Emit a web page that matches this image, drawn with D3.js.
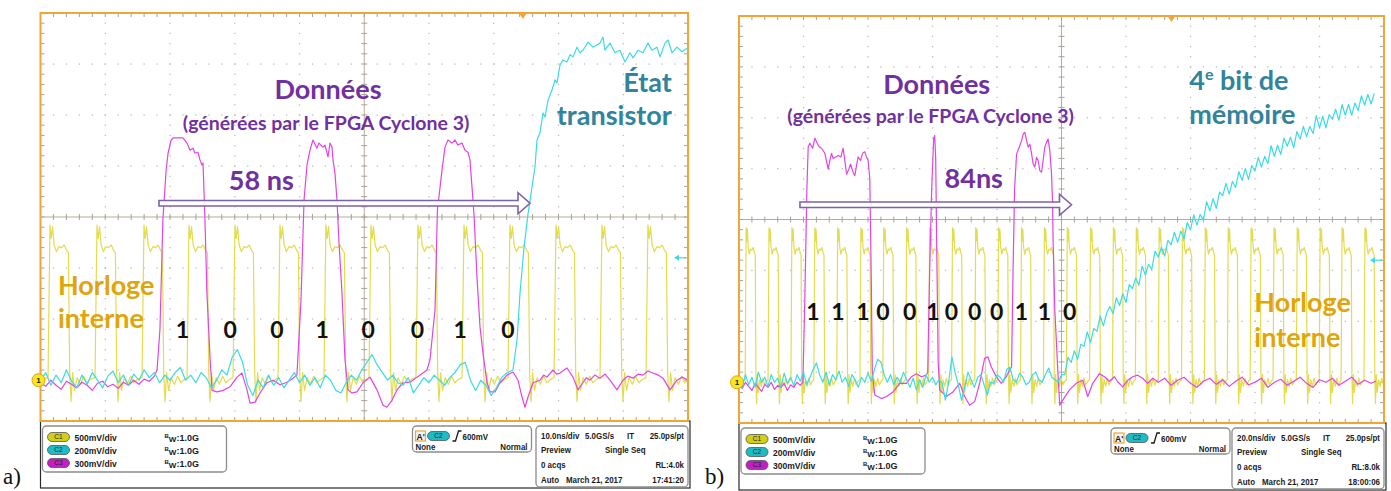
<!DOCTYPE html>
<html>
<head>
<meta charset="utf-8">
<script src="https://cdn.jsdelivr.net/npm/d3@7"></script>
<style>
  body { margin: 0; background: #fff; }
  svg { display: block; }
</style>
</head>
<body>
<svg id="chart" width="1391" height="491"></svg>
<script>
// time in ns, amplitude in screen divisions (0 = centre line)

const clockShapeT = [0, 0.3, 0.5, 0.7, 0.95, 1.3, 1.7, 2.1, 2.5, 2.9, 3.15, 3.35, 3.55, 3.8, 4.1, 4.5, 5.0, 5.5, 6.0, 6.6];
const clockShapeV = [-3.15, -0.16, -0.42, -0.19, -0.55, -0.68, -0.58, -0.6, -0.55, -0.66, -0.7, -3.06, -3.62, -3.05, -3.4, -3.15, -3.28, -3.12, -3.25, -3.18];

// clock rising edges
const clockEdgesA = [1.16, 8.42, 15.68, 22.63, 29.73, 36.68, 43.78, 50.73, 57.99, 65.1, 72.2, 79.31, 86.41, 93.51];
const clockEdgesB = [1.9, 9.0, 16.1, 23.2, 30.3, 37.5, 44.6, 51.7, 58.8, 65.9, 73.1, 80.2, 87.3, 94.4, 101.5, 108.7,
  115.8, 122.9, 130.0, 137.2, 144.3, 151.4, 158.5, 165.6, 172.8, 179.9, 186.7, 193.8];

// data line (C3, magenta), screen a
const magentaA = [
  [0,-3.25],[0.8,-3.32],[1.6,-3.2],[2.4,-3.3],[3.2,-3.38],[4,-3.22],[4.8,-3.28],[5.6,-3.35],[6.4,-3.24],[7.2,-3.3],
  [8,-3.4],[8.8,-3.26],[9.6,-3.22],[10.4,-3.33],[11.2,-3.28],[12,-3.36],[12.8,-3.24],[13.6,-3.3],[14.4,-3.2],[15.2,-3.28],
  [16,-3.18],[16.8,-3.22],[17.6,-3.12],[18.0,-3.0],[18.45,-2.2],[18.9,-0.06],[19.4,0.92],[19.7,1.25],[20.15,1.5],[20.5,1.55],
  [21.24,1.55],[22.0,1.55],[22.63,1.45],[23.09,1.31],[23.55,1.35],[23.86,1.25],[24.32,1.27],[24.63,1.12],[24.94,1.02],[25.1,1.06],
  [25.4,-0.06],[25.7,-1.49],[26.2,-2.8],[26.5,-3.4],[27.26,-3.43],[28.19,-3.4],[29.27,-3.33],[30.35,-3.14],[31.12,-3.06],[31.89,-3.39],
  [32.36,-3.65],[33.13,-3.63],[33.9,-3.45],[34.98,-3.25],[35.91,-3.2],[37.0,-3.29],[38.07,-3.24],[39.0,-3.16],[39.6,-3.1],[40.23,-1.63],
  [40.7,0.33],[41.16,1.02],[41.62,1.31],[42.08,1.51],[42.7,1.35],[43.0,1.45],[43.63,1.37],[43.94,1.41],[44.4,1.18],[44.71,1.45],
  [45.02,1.37],[45.17,1.12],[45.48,0.86],[45.79,0.33],[46.1,-0.5],[46.56,-1.49],[47.03,-2.8],[47.5,-3.39],[48.1,-3.45],[48.88,-3.43],
  [49.81,-3.25],[50.89,-3.14],[51.97,-3.39],[52.9,-3.69],[53.51,-3.73],[54.29,-3.59],[55.06,-3.39],[55.98,-3.25],[57.07,-3.24],[58.15,-3.14],
  [59.07,-3.06],[59.69,-3.0],[60.15,-2.8],[60.93,-1.82],[61.3,0.14],[62.01,0.92],[62.47,1.37],[62.94,1.51],[63.55,1.45],[64.02,1.51],
  [64.48,1.41],[65.1,1.45],[65.56,1.31],[66.02,1.27],[66.33,1.12],[66.64,0.59],[66.95,0.05],[67.41,-1.18],[67.88,-2.16],[68.34,-2.67],
  [68.96,-3.25],[69.42,-3.43],[70.19,-3.43],[70.97,-3.25],[72.05,-3.1],[72.97,-3.04],[73.75,-3.2],[74.36,-3.53],[74.83,-3.73],[75.29,-3.53],
  [76.06,-3.25],[77.14,-3.2],[77.7,-3.1],[78.22,-3.14],[79.15,-3.0],[79.7,-3.08],[80.23,-3.06],[81.31,-2.96],[82.24,-3.14],[83.01,-3.39],
  [83.78,-3.25],[84.3,-3.15],[84.86,-3.2],[85.6,-3.1],[86.41,-3.16],[87.2,-3.08],[87.95,-3.2],[89.03,-3.39],[89.96,-3.2],[90.7,-3.12],
  [91.51,-3.16],[92.3,-3.08],[93.05,-3.1],[93.8,-3.02],[94.59,-3.06],[95.4,-3.1],[96.14,-3.16],[97.22,-3.39],[98.3,-3.2],[99.1,-3.14],[100,-3.2]
];

// transistor state (C2, cyan), screen a
const cyanA = [
  [0,-3.2],[0.8,-3.05],[1.6,-3.3],[2.4,-3.1],[3.2,-3.25],[4,-3.0],[4.8,-3.22],[5.6,-3.35],[6.4,-3.1],[7.2,-3.28],
  [8,-3.05],[8.8,-3.2],[9.6,-3.35],[10.4,-3.12],[11.2,-3.02],[12,-3.25],[12.8,-3.1],[13.6,-3.3],[14.4,-3.08],[15.2,-3.2],
  [16,-3.0],[16.8,-3.15],[17.6,-3.05],[18.4,-3.25],[19.2,-3.1],[20,-3.2],[20.8,-3.05],[21.6,-2.95],[22.4,-3.2],[23.2,-3.1],
  [24,-3.25],[24.8,-3.05],[25.6,-3.15],[26.4,-3.35],[27.2,-3.2],[28,-3.0],[28.8,-3.1],[29.6,-2.75],[30.4,-2.6],[31.2,-2.85],
  [32,-3.3],[32.8,-3.5],[33.6,-3.2],[34.4,-3.35],[35.2,-3.1],[36,-3.3],[36.8,-3.15],[37.6,-3.35],[38.4,-3.2],[39.2,-3.05],
  [40,-3.25],[40.8,-3.1],[41.6,-3.3],[42.4,-3.15],[43.2,-3.35],[44,-3.1],[44.8,-3.2],[45.6,-3.4],[46.4,-3.45],[47.2,-3.25],
  [48,-3.1],[48.8,-3.2],[49.6,-3.0],[50.4,-2.85],[51.2,-2.7],[52,-2.9],[52.8,-3.05],[53.6,-3.2],[54.4,-3.1],[55.2,-3.25],
  [56,-3.3],[56.8,-3.15],[57.6,-3.45],[58.4,-3.3],[59.2,-3.15],[60,-3.25],[60.8,-3.1],[61.6,-3.2],[62.4,-3.3],[63.2,-3.15],
  [64,-3.05],[64.8,-2.9],[65.6,-2.85],[66.4,-3.2],[67.2,-3.4],[68,-3.2],[68.8,-3.3],[69.6,-3.5],[70.4,-3.35],[71.2,-3.15],
  [72,-3.06],[72.97,-3.0],[73.6,-2.4],[74.05,-1.5],[74.67,-0.6],[75.29,0.06],[75.91,0.59],[76.37,0.98],[76.68,1.51],[77.14,1.65],
  [77.61,2.04],[77.92,1.96],[78.38,2.29],[79.0,2.49],[79.46,2.69],[79.77,2.63],[80.23,2.98],[80.7,3.08],[81.31,3.04],[81.78,3.18],
  [82.24,3.14],[82.86,3.33],[83.32,3.22],[83.78,3.27],[84.56,3.43],[85.33,3.33],[86.41,3.41],[86.87,3.53],[87.18,3.27],[87.95,3.41],
  [88.72,3.22],[89.49,3.27],[90.27,3.04],[91.04,3.22],[91.51,3.12],[92.28,3.27],[93.05,3.22],[93.82,3.41],[94.44,3.27],[95.21,3.33],
  [95.68,3.14],[96.45,3.41],[96.91,3.47],[97.53,3.22],[98.3,3.33],[99.07,3.24],[99.85,3.31]
];

// data line (C3, magenta), screen b
const magentaB = [
  [0,-3.25],[1,-3.32],[2,-3.2],[3,-3.28],[4,-3.36],[5,-3.22],[6,-3.3],[7,-3.38],[8,-3.24],[9,-3.3],
  [10,-3.2],[11,-3.34],[12,-3.26],[13,-3.3],[14,-3.22],[15,-3.36],[16,-3.25],[17,-3.3],[18,-3.2],[19,-3.26],
  [19.81,-3.2],[20.43,-1.5],[21.05,0.6],[21.46,1.43],[21.98,1.5],[22.82,1.4],[23.53,1.6],[24.24,1.5],[24.86,1.43],[25.6,1.4],
  [26.63,1.3],[27.65,0.99],[28.17,1.16],[28.7,1.3],[29.2,1.2],[30.03,1.23],[30.74,1.26],[31.58,1.23],[32.29,1.4],[32.82,1.16],
  [33.34,0.89],[34.06,0.99],[34.58,1.09],[35.2,0.96],[35.91,0.86],[36.44,1.06],[36.93,1.23],[37.68,1.16],[38.3,1.3],[39.01,1.33],
  [39.54,1.23],[40.03,1.16],[40.56,0.8],[41.02,-1.2],[41.33,-3.0],[42.1,-3.45],[44.18,-3.52],[45.73,-3.48],[47.77,-3.39],[49.85,-3.22],
  [51.92,-3.22],[53.47,-3.09],[55.02,-3.03],[56.56,-3.09],[58.11,-3.06],[58.51,-3.0],[59.13,-1.0],[59.75,0.6],[60.37,1.6],[60.68,1.65],
  [60.99,1.2],[61.3,-0.5],[61.76,-2.8],[62.23,-3.35],[64.3,-3.48],[66.35,-3.39],[68.42,-3.22],[69.97,-3.48],[71.52,-3.65],[73.07,-3.58],
  [74.61,-3.22],[76.16,-2.73],[77.18,-2.7],[78.24,-2.9],[79.78,-3.09],[81.33,-3.22],[82.88,-3.09],[83.9,-2.96],[84.52,-2.9],[84.98,-1.0],
  [85.45,0.6],[86.07,1.29],[86.88,1.42],[87.63,1.55],[88.12,1.68],[88.65,1.71],[89.18,1.55],[89.67,1.42],[90.2,1.48],[90.73,1.29],
  [91.22,1.09],[91.74,1.03],[92.27,1.22],[92.76,1.16],[93.28,0.96],[93.81,0.93],[94.3,1.16],[94.83,1.42],[95.36,1.52],[95.85,1.58],
  [96.38,1.35],[96.9,0.9],[97.21,0.37],[97.41,-0.47],[97.93,-1.78],[98.95,-3.09],[99.47,-3.65],[100.4,-3.55],[102.48,-3.35],[104.55,-3.22],
  [106.59,-3.16],[108.14,-3.48],[109.69,-3.22],[111.76,-3.03],[113.31,-3.09],[114.86,-3.18],[116.41,-3.09],[117.43,-3.19],[118.98,-3.29],[120.53,-3.16],
  [122.07,-3.09],[123.62,-3.06],[125.17,-3.12],[126.72,-3.22],[128.27,-3.12],[130,-3.2],[132,-3.12],[134,-3.26],[136,-3.16],[138,-3.1],
  [140,-3.22],[142,-3.3],[144,-3.18],[146,-3.12],[148,-3.24],[150,-3.15],[152,-3.28],[154,-3.18],[156,-3.1],[158,-3.25],
  [160,-3.2],[162,-3.12],[164,-3.3],[166,-3.2],[168,-3.14],[170,-3.26],[172,-3.18],[174,-3.1],[176,-3.22],[178,-3.3],
  [180,-3.15],[182,-3.2],[184,-3.12],[186,-3.26],[188,-3.18],[190,-3.1],[192,-3.24],[194,-3.16],[196,-3.22],[197.5,-3.18]
];

// 4th memory bit (C2, cyan), screen b
const cyanB = [
  [0,-3.15],[1,-3.3],[2,-3.05],[3,-3.25],[4,-3.1],[5,-3.3],[6,-3.0],[7,-3.2],[8,-3.1],[9,-3.28],
  [10,-3.05],[11,-3.2],[12,-3.12],[13,-3.3],[14,-3.02],[15,-3.22],[16,-3.1],[17,-3.26],[18,-3.05],[19,-3.18],
  [20,-3.0],[21,-3.25],[22,-3.1],[23,-2.95],[24,-2.82],[25,-3.05],[26,-3.2],[27,-3.0],[28,-3.25],[29,-3.05],
  [30,-3.15],[31,-2.98],[32,-3.2],[33,-3.1],[34,-3.28],[35,-3.05],[36,-3.15],[37,-3.3],[38,-3.1],[39,-3.2],
  [40,-3.02],[41,-3.18],[42,-2.95],[43,-2.75],[44,-2.8],[45,-3.05],[46,-3.2],[47,-3.05],[48,-3.25],[49,-3.1],
  [50,-3.2],[51,-3.0],[52,-3.15],[53,-3.3],[54,-3.12],[55,-3.35],[56,-3.15],[57,-3.3],[58,-3.05],[59,-3.2],
  [60,-3.1],[61,-3.25],[62,-3.15],[63,-3.22],[64,-3.55],[65,-3.2],[66,-2.7],[67,-3.0],[68,-3.25],[69,-3.55],
  [70,-3.3],[71,-3.0],[72,-3.15],[73,-3.3],[74,-3.1],[75,-3.05],[76,-3.25],[77,-3.45],[78,-3.2],[79,-3.22],
  [80,-3.05],[81,-3.1],[82,-3.2],[83,-2.95],[84,-2.9],[85,-3.15],[86,-3.2],[87,-3.02],[88,-3.1],[89,-3.25],
  [90,-3.2],[91,-3.05],[92,-3.0],[93,-3.15],[94,-3.2],[95,-3.05],[96,-2.92],[97,-3.1],[98,-3.15],[99,-3.2],
  [100,-3.05],[101,-3.05],[102,-2.71],[103,-2.81],[104,-2.58],[105,-2.75],[106,-2.45],[107,-2.49],[108,-2.21],[109,-2.42],
  [110,-2.14],[111,-2.2],[112,-1.9],[113,-2.09],[114,-1.84],[115,-1.71],[116,-1.85],[117,-1.54],[118,-1.69],[119,-1.46],
  [120,-1.63],[121,-1.28],[122,-1.36],[123,-1.15],[124,-1.29],[125,-0.92],[126,-1.09],[127,-0.88],[128,-0.98],[129,-0.62],
  [130,-0.74],[131,-0.55],[132,-0.72],[133,-0.41],[134,-0.5],[135,-0.25],[136,-0.45],[137,-0.23],[138,-0.38],[139,-0.06],
  [140,-0.2],[141,0.09],[142,-0.11],[143,0.1],[144,-0.02],[145,0.35],[146,0.17],[147,0.41],[148,0.22],[149,0.54],
  [150,0.47],[151,0.71],[152,0.5],[153,0.75],[154,0.63],[155,0.94],[156,0.77],[157,1.0],[158,0.79],[159,1.06],
  [160,0.95],[161,1.22],[162,1.03],[163,1.24],[164,1.1],[165,1.45],[166,1.24],[167,1.46],[168,1.28],[169,1.6],
  [170,1.44],[171,1.62],[172,1.41],[173,1.73],[174,1.58],[175,1.83],[176,1.63],[177,1.83],[178,1.69],[179,2.04],
  [180,1.8],[181,2.03],[182,1.8],[183,2.06],[184,1.97],[185,2.17],[186,1.95],[187,2.26],[188,2.05],[189,2.26],
  [190,2.05],[191,2.29],[192,2.14],[193,2.43],[194,2.25],[195,2.46],[196,2.27],[197,2.48]
];

// bit values written under the clock
const bitsA = ["1", "0", "0", "1", "0", "0", "1", "0"];
const bitsB = ["1", "1", "1", "0", "0", "1", "0", "0", "0", "1", "1", "0"];

// status panel texts
const channelNames = ["C1", "C2", "C3"];
const channelScales = ["500mV/div", "200mV/div", "300mV/div"];
const statusA = ["10.0ns/div", "5.0GS/s", "IT", "25.0ps/pt", "Preview", "Single Seq", "0 acqs", "RL:4.0k", "Auto", "March 21, 2017", "17:41:20"];
const statusB = ["20.0ns/div", "5.0GS/s", "IT", "25.0ps/pt", "Preview", "Single Seq", "0 acqs", "RL:8.0k", "Auto", "March 21, 2017", "18:00:06"];

const colors = {
  frame: "#f2a537", grid: "#bdbdbd", centre: "#b4ad9c", tick: "#a8a296",
  clock: "#e2dc4e", cyan: "#3cdbe4", magenta: "#e245e4",
  purple: "#7030a0", teal: "#31849b", gold: "#dfa60c", arrow: "#7d62a6"
};
const pillColors = ["#d2cf14", "#1cbcc4", "#c21fc2"];

const svg = d3.select("#chart");
const bigFont = "Lato, 'Open Sans', sans-serif";
const tekFont = "'Liberation Sans', Arial, sans-serif";

function drawPanel(p) {
  const x = d3.scaleLinear().domain([0, p.tMax]).range([p.left, p.right]);
  const y = d3.scaleLinear().domain([-4, 4]).range([p.bottom, p.top]);
  const div = p.tMax / 10;
  const g = svg.append("g");

  // status area under the screen
  g.append("rect")
    .attr("x", p.left).attr("y", p.bottom)
    .attr("width", p.right - p.left + 2).attr("height", 67)
    .attr("fill", "#fff").attr("stroke", "#2a2a2a").attr("stroke-width", 1.2);

  // dotted graticule
  const dots = [];
  for (let i = 1; i < 10; i++) {
    if (i === 5) continue;
    for (let j = 1; j < 40; j++) dots.push([i * div, -4 + j * 0.2]);
  }
  for (let k = -3; k <= 3; k++) {
    if (k === 0) continue;
    for (let j = 1; j < 50; j++) dots.push([j * div / 5, k]);
  }
  g.append("g").selectAll("rect").data(dots).join("rect")
    .attr("x", d => x(d[0]) - 0.6).attr("y", d => y(d[1]) - 0.6)
    .attr("width", 1.3).attr("height", 1.3).attr("fill", colors.grid);

  // centre cross with its ticks
  const cx = x(p.tMax / 2), cy = y(0);
  g.append("line").attr("x1", p.left).attr("x2", p.right).attr("y1", cy).attr("y2", cy)
    .attr("stroke", colors.centre).attr("stroke-width", 1);
  g.append("line").attr("x1", cx).attr("x2", cx).attr("y1", p.top).attr("y2", p.bottom)
    .attr("stroke", colors.centre).attr("stroke-width", 1);

  const ticks = [];
  for (let j = 1; j < 50; j++) {
    const tx = x(j * div / 5);
    ticks.push([tx, cy - 3, tx, cy + 3]);
    ticks.push([tx, p.top, tx, p.top + 4]);
    ticks.push([tx, p.bottom - 4, tx, p.bottom]);
  }
  for (let j = 1; j < 40; j++) {
    const ty = y(-4 + j * 0.2);
    ticks.push([cx - 3, ty, cx + 3, ty]);
    ticks.push([p.left, ty, p.left + 4, ty]);
    ticks.push([p.right - 4, ty, p.right, ty]);
  }
  g.append("g").selectAll("line").data(ticks).join("line")
    .attr("x1", d => d[0]).attr("y1", d => d[1]).attr("x2", d => d[2]).attr("y2", d => d[3])
    .attr("stroke", colors.tick).attr("stroke-width", 1);

  // traces
  const clipId = "clip-" + p.id;
  svg.append("defs").append("clipPath").attr("id", clipId)
    .append("rect").attr("x", p.left).attr("y", p.top)
    .attr("width", p.right - p.left).attr("height", p.bottom - p.top);

  const clock = [[0, clockShapeV[clockShapeV.length - 1]]];
  p.edges.forEach(e => clockShapeT.forEach((t, i) => clock.push([e + t, clockShapeV[i]])));

  const line = d3.line().x(d => x(d[0])).y(d => y(d[1]));
  const traces = g.append("g").attr("clip-path", `url(#${clipId})`);
  [[clock, colors.clock], [p.magenta, colors.magenta], [p.cyan, colors.cyan]].forEach(([data, col]) => {
    traces.append("path").datum(data)
      .attr("d", line).attr("fill", "none")
      .attr("stroke", col).attr("stroke-width", 1.2).attr("stroke-linejoin", "round");
  });

  // frame
  g.append("rect")
    .attr("x", p.left).attr("y", p.top)
    .attr("width", p.right - p.left).attr("height", p.bottom - p.top)
    .attr("fill", "none").attr("stroke", colors.frame).attr("stroke-width", 2);

  // trigger position (top) and trigger level (right)
  const tx = x(p.trigT);
  g.append("path")
    .attr("d", `M${tx - 4},${p.top} L${tx + 4},${p.top} L${tx},${p.top + 6} Z`)
    .attr("fill", colors.frame);
  const ly = y(p.trigLevel);
  g.append("line").attr("x1", p.right - 2).attr("x2", p.right - 12).attr("y1", ly).attr("y2", ly)
    .attr("stroke", colors.cyan).attr("stroke-width", 1.2);
  g.append("path")
    .attr("d", `M${p.right - 14},${ly} L${p.right - 9},${ly - 3} L${p.right - 9},${ly + 3} Z`)
    .attr("fill", colors.cyan);

  // ground marker of channel 1
  const gy = y(-3.2);
  g.append("circle").attr("cx", p.left - 2).attr("cy", gy).attr("r", 6.5)
    .attr("fill", "#f6e81a").attr("stroke", "#e3a21a").attr("stroke-width", 1);
  g.append("text").attr("x", p.left - 2).attr("y", gy + 3)
    .attr("text-anchor", "middle").attr("font-family", tekFont).attr("font-weight", "bold")
    .attr("font-size", 8).attr("fill", "#222").text("1");

  // annotations
  const txt = (s, tx, ty, opt) => g.append("text")
    .attr("x", x(tx)).attr("y", y(ty))
    .attr("text-anchor", opt.anchor || "start")
    .attr("font-family", bigFont).attr("font-weight", "bold")
    .attr("font-size", opt.size).attr("fill", opt.fill)
    .text(s);

  txt("Données", p.donnees[0], p.donnees[1], { anchor: "middle", size: 27, fill: colors.purple });
  txt("(générées par le FPGA Cyclone 3)", p.generees[0], p.generees[1], { anchor: "middle", size: 19.5, fill: colors.purple });
  txt(p.delay, p.delayPos[0], p.delayPos[1], { anchor: "middle", size: 27, fill: colors.purple });

  // hollow block arrow for the delay
  const ax0 = x(p.arrow[0]), ax1 = x(p.arrow[1]), ay = y(p.arrow[2]);
  const bh = 2.8, hh = 10.5, hl = 12;
  g.append("path")
    .attr("d", `M${ax0},${ay - bh} L${ax1 - hl},${ay - bh} L${ax1 - hl},${ay - hh} L${ax1},${ay} ` +
               `L${ax1 - hl},${ay + hh} L${ax1 - hl},${ay + bh} L${ax0},${ay + bh} Z`)
    .attr("fill", "#fff").attr("stroke", colors.arrow).attr("stroke-width", 1.6);

  p.bits.forEach((b, i) => txt(b, p.bitTimes[i], p.bitLevel, { anchor: "middle", size: 23, fill: "#111" }));

  txt("Horloge", p.horloge[0], p.horloge[1], { size: 27, fill: colors.gold });
  txt("interne", p.horloge[0], p.horloge[2], { size: 27, fill: colors.gold });

  if (p.id === "a") {
    txt("État", p.state[0], p.state[1], { anchor: "end", size: 27, fill: colors.teal });
    txt("transistor", p.state[0], p.state[2], { anchor: "end", size: 27, fill: colors.teal });
  } else {
    const t4 = txt("4", p.state[0], p.state[1], { size: 27, fill: colors.teal });
    t4.append("tspan").attr("font-size", 16).attr("dy", -10).text("e");
    t4.append("tspan").attr("dy", 10).text(" bit de");
    txt("mémoire", p.state[0], p.state[2], { size: 27, fill: colors.teal });
  }

  drawStatus(g, p);
}

function drawStatus(g, p) {
  const L = p.left, B = p.bottom;
  // Tek-style condensed lettering: squeeze the natural width a little
  const small = (s, sx, sy, anchor, squeeze) => {
    const t = g.append("text")
      .attr("x", sx).attr("y", sy).attr("text-anchor", anchor || "start")
      .attr("font-family", tekFont).attr("font-weight", "bold")
      .attr("font-size", 9).attr("fill", "#1a1a1a").text(s);
    const w = t.node().getComputedTextLength();
    t.attr("textLength", w * (squeeze || 0.88)).attr("lengthAdjust", "spacingAndGlyphs");
    return t;
  };
  const box = (bx, by, bw, bh) => g.append("rect")
    .attr("x", bx).attr("y", by).attr("width", bw).attr("height", bh).attr("rx", 4)
    .attr("fill", "#fff").attr("stroke", "#8c8c8c").attr("stroke-width", 1.3);
  const pill = (px, py, i) => {
    g.append("rect").attr("x", px).attr("y", py - 4.5).attr("width", 22).attr("height", 9).attr("rx", 4.5)
      .attr("fill", pillColors[i]).attr("stroke", "#555").attr("stroke-width", 0.8);
    g.append("text").attr("x", px + 11).attr("y", py + 2.3).attr("text-anchor", "middle")
      .attr("font-family", tekFont).attr("font-size", 6.5).attr("fill", "#222").text(channelNames[i]);
  };

  // vertical channel settings
  box(L + 2, B + 5, 184, 46);
  channelNames.forEach((c, i) => {
    const ry = B + 16 + i * 13;
    pill(L + 7, ry, i);
    small(channelScales[i], L + 34, ry + 3.5, "start", 0.95);
    const bw = g.append("text").attr("x", L + 124).attr("y", ry + 3.5)
      .attr("font-family", tekFont).attr("font-weight", "bold")
      .attr("font-size", 9).attr("fill", "#1a1a1a");
    bw.append("tspan").attr("font-size", 6).attr("dy", -3).text("B");
    bw.append("tspan").attr("font-size", 8).attr("dy", 4).text("W");
    bw.append("tspan").attr("dy", -1).text(":1.0G");
  });

  // trigger
  const tL = L + 372;
  box(tL, B + 5, 119, 26);
  g.append("rect").attr("x", tL + 3).attr("y", B + 10).attr("width", 10).attr("height", 10)
    .attr("fill", "#f4f4f4").attr("stroke", colors.frame).attr("stroke-width", 1.2);
  small("A'", tL + 4, B + 18.5, "start", 0.95);
  pill(tL + 15, B + 15, 1);
  g.append("path").attr("d", `M${tL + 40},${B + 20} L${tL + 43},${B + 20} L${tL + 46},${B + 10} L${tL + 49},${B + 10}`)
    .attr("fill", "none").attr("stroke", "#1a1a1a").attr("stroke-width", 1.3);
  small("600mV", tL + 50, B + 18.5);
  small("None", tL + 3, B + 29);
  small("Normal", tL + 115, B + 29, "end");

  // timebase and acquisition
  const sL = p.right - 152, sR = p.right - 4;
  const s = p.status;
  box(sL, B + 5, 152, 61);
  small(s[0], sL + 5, B + 18);
  small(s[1], sL + 49, B + 18);
  small(s[2], sL + 91, B + 18);
  small(s[3], sR, B + 18, "end");
  small(s[4], sL + 5, B + 32);
  small(s[5], sL + 69, B + 32);
  small(s[6], sL + 5, B + 47);
  small(s[7], sR, B + 47, "end");
  small(s[8], sL + 5, B + 62);
  small(s[9], sL + 30, B + 62);
  small(s[10], sR, B + 62, "end");

  svg.append("text").attr("x", p.labelX).attr("y", 484)
    .attr("font-family", "'Liberation Serif', 'DejaVu Serif', serif")
    .attr("font-size", 23).attr("fill", "#111").text(p.id + ")");
}

drawPanel({
  id: "a", left: 40.5, right: 688, top: 13, bottom: 421, tMax: 100, labelX: 3,
  edges: clockEdgesA, magenta: magentaA, cyan: cyanA, status: statusA,
  trigT: 74.5, trigLevel: -0.8,
  donnees: [44.4, 2.31], generees: [44.1, 1.71], delay: "58 ns", delayPos: [34.1, 0.53],
  arrow: [18.3, 75.6, 0.27],
  bits: bitsA, bitTimes: [21.9, 29.3, 36.5, 43.5, 50.6, 58.2, 64.8, 72.2], bitLevel: -2.37,
  horloge: [2.7, -1.53, -2.18], state: [97.5, 2.45, 1.8]
});

drawPanel({
  id: "b", left: 739, right: 1384, top: 16, bottom: 423, tMax: 200, labelX: 705,
  edges: clockEdgesB, magenta: magentaB, cyan: cyanB, status: statusB,
  trigT: 134.1, trigLevel: -0.8,
  donnees: [61.3, 2.47], generees: [59.4, 1.9], delay: "84ns", delayPos: [72.8, 0.62],
  arrow: [18.9, 103.1, 0.29],
  bits: bitsB, bitTimes: [22.9, 30.7, 38.4, 44.6, 52.9, 60.1, 65.9, 73.1, 79.9, 87.6, 94.7, 102.5], bitLevel: -1.97,
  horloge: [159.8, -1.82, -2.5], state: [139.6, 2.54, 1.88]
});
</script>
</body>
</html>
